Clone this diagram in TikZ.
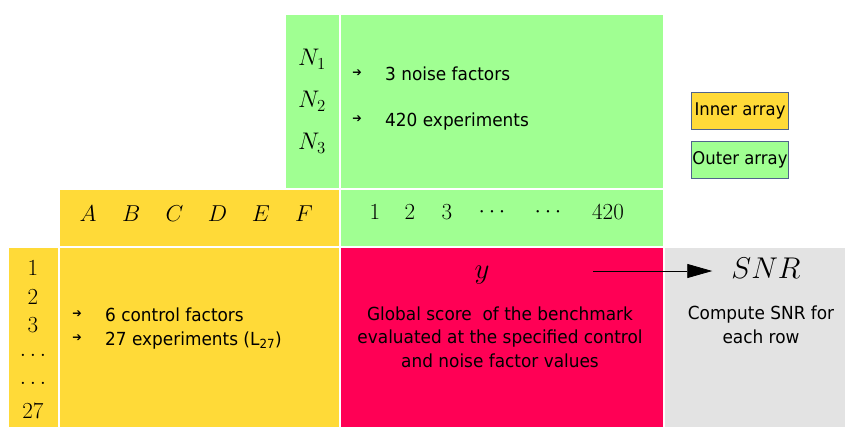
\RequirePackage{fix-cm}
\documentclass[tikz,border=0pt]{standalone}
\usepackage[no-math]{fontspec}
\setmainfont{DejaVu Sans}[FakeStretch=0.94]
\usetikzlibrary{positioning, arrows.meta}
\definecolor{cIn}{RGB}{255,218,56}
\definecolor{cOut}{RGB}{160,255,146}
\definecolor{cY}{RGB}{255,0,85}
\definecolor{cSnr}{RGB}{227,227,227}
\definecolor{cLeg}{RGB}{80,100,140}

\tikzset{
    cell/.style={draw=white, line width=2pt, anchor=north west, inner sep=0pt, outer sep=0pt},
    txt/.style={font=\fontsize{18}{23.5}\selectfont, inner sep=0pt},
    mth/.style={font=\fontsize{23}{27}\selectfont, inner sep=0pt},
    mthb/.style={font=\fontsize{30}{34}\selectfont, inner sep=0pt},
    bul/.style={font=\fontsize{12}{13}\selectfont, inner sep=0pt},
    legbox/.style={draw=cLeg, line width=0.7pt, inner sep=0pt, minimum width=97pt,
        minimum height=37pt, font=\fontsize{17.5}{20}\selectfont}
}

\begin{document}
\begin{tikzpicture}[x=1pt, y=-1pt]

    \useasboundingbox (0,0) rectangle (845,426);

    % --- Outer array (noise) ---
    \node[cell, fill=cOut, minimum width=55, minimum height=175] (ncol) at (285,14) {};
    \node[cell, fill=cOut, minimum width=324, minimum height=175] (noise) at (340,14) {};
    \node[cell, fill=cOut, minimum width=324, minimum height=58] (runs) at (340,189) {};

    % --- Inner array (control) ---
    \node[cell, fill=cIn, minimum width=281, minimum height=58] (hdr) at (59,189) {};
    \node[cell, fill=cIn, minimum width=51, minimum height=182] (rows) at (8,247) {};
    \node[cell, fill=cIn, minimum width=281, minimum height=182] (ctrl) at (59,247) {};

    % --- Response and SNR ---
    \node[cell, fill=cY, minimum width=324, minimum height=182] (resp) at (340,247) {};
    \node[cell, fill=cSnr, minimum width=185, minimum height=182] (snrcell) at (664,247) {};

    % noise factors
    \foreach \i/\y in {1/59, 2/101, 3/143}
        \node[mth, font=\fontsize{24}{28}\selectfont] (n\i) at (312,\y) {$N_\i$};
    \node[bul] (nb1) at (357,73) {➔};
    \node[txt, anchor=base west] (nt1) at (385,80) {3 noise factors};
    \node[bul] (nb2) at (357,119) {➔};
    \node[txt, anchor=base west] (nt2) at (385,126) {420 experiments};

    % control factors A..F
    \foreach \l [count=\i] in {A,B,C,D,E,F}
        \node[mth] (f\i) at ({88+43.2*(\i-1)},214) {$\l$};

    % outer runs 1..420
    \foreach \x/\t [count=\i] in {375/1, 410/2, 447/3, 492/\cdots, 548/\cdots, 608/420}
        \node[mth] (r\i) at (\x,212) {$\t$};

    % inner runs 1..27
    \foreach \y/\t [count=\i] in {268/1, 297/2, 325/3, 355/\ldots, 383/\ldots, 411/27}
        \node[mth] (c\i) at (33,\y) {$\t$};

    \node[bul] (cb1) at (77,314) {➔};
    \node[txt, anchor=base west] (ct1) at (105,321) {6 control factors};
    \node[bul] (cb2) at (77,338) {➔};
    \node[txt, anchor=base west] (ct2) at (105,345) {27 experiments (L\textsubscript{27})};

    % response y
    \node[mthb, font=\fontsize{29}{33}\selectfont] (y) at (482,275) {$y$};
    \node[txt, align=center] (ytxt) at (500,337)
        {Global score\ \ of the benchmark\\evaluated at the specified control\\and noise factor values};

    % SNR
    \node[mthb] (snr) at (766,268) {$SNR$};
    \node[txt, align=center] (snrtxt) at (761,325) {Compute SNR for\\each row};
    \coordinate (ystart) at (593,271);
    \draw[-{Triangle[length=25pt, width=14pt]}, line width=0.8pt, shorten >=19pt]
        (ystart) -- (ystart -| snr.west);

    % --- Legend ---
    \node[legbox, fill=cIn] (inleg) at (740,111) {Inner array};
    \node[legbox, fill=cOut] (outleg) at (740,160) {Outer array};

\end{tikzpicture}
\end{document}
